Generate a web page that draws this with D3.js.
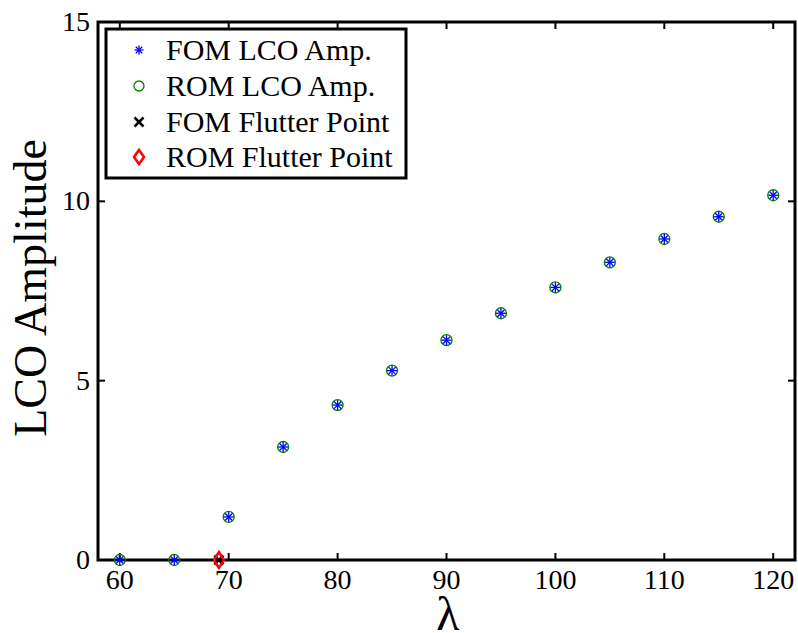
<!DOCTYPE html>
<html>
<head>
<meta charset="utf-8">
<script src="https://cdn.jsdelivr.net/npm/d3@7"></script>
<style>
  body { margin: 0; background: #fff; }
  text { font-family: "Liberation Serif", "Times New Roman", serif; }
</style>
</head>
<body>
<div class="chart"></div>
<script>
// lambda values and LCO amplitudes
var lambdas = [60, 65, 70, 75, 80, 85, 90, 95, 100, 105, 110, 115, 120];
var fomAmp = [0, 0, 1.2, 3.15, 4.32, 5.28, 6.13, 6.88, 7.6, 8.3, 8.95, 9.57, 10.17];
var romAmp = [0, 0, 1.2, 3.15, 4.32, 5.28, 6.13, 6.88, 7.6, 8.3, 8.95, 9.57, 10.17];
var fomFlutter = [69.1, 0];
var romFlutter = [69.1, 0];
var xTicks = [60, 70, 80, 90, 100, 110, 120];
var yTicks = [0, 5, 10, 15];
var legendLabels = ["FOM LCO Amp.", "ROM LCO Amp.", "FOM Flutter Point", "ROM Flutter Point"];

const width = 798, height = 633;
const pLeft = 98, pTop = 22, pRight = 795, pBottom = 560;

const svg = d3.select(".chart").append("svg")
              .attr("width", width)
              .attr("height", height)
              .style("display", "block");

const x = d3.scaleLinear().domain([58, 122]).range([pLeft, pRight]);
const y = d3.scaleLinear().domain([0, 15]).range([pBottom, pTop]);

// ticks, inward on all four sides
const g = svg.append("g");
xTicks.forEach(function(t){
    g.append("line").attr("x1", x(t)).attr("x2", x(t)).attr("y1", pBottom).attr("y2", pBottom - 7)
     .attr("stroke", "#000").attr("stroke-width", 2);
    g.append("line").attr("x1", x(t)).attr("x2", x(t)).attr("y1", pTop).attr("y2", pTop + 7)
     .attr("stroke", "#000").attr("stroke-width", 2);
    g.append("text").attr("x", x(t)).attr("y", pBottom + 29)
     .attr("text-anchor", "middle").attr("font-size", 28).text(t);
});
yTicks.forEach(function(t){
    g.append("line").attr("x1", pLeft).attr("x2", pLeft + 7).attr("y1", y(t)).attr("y2", y(t))
     .attr("stroke", "#000").attr("stroke-width", 2);
    g.append("line").attr("x1", pRight).attr("x2", pRight - 7).attr("y1", y(t)).attr("y2", y(t))
     .attr("stroke", "#000").attr("stroke-width", 2);
    g.append("text").attr("x", pLeft - 8).attr("y", y(t) + 9)
     .attr("text-anchor", "end").attr("font-size", 28).text(t);
});

svg.append("rect")
   .attr("x", pLeft).attr("y", pTop)
   .attr("width", pRight - pLeft).attr("height", pBottom - pTop)
   .attr("fill", "none").attr("stroke", "#000").attr("stroke-width", 3);

// axis labels (the lambda sits at the very bottom edge, as in the original)
svg.append("text").attr("x", 448).attr("y", 630)
   .attr("text-anchor", "middle").attr("font-size", 48).text("λ");
svg.append("text")
   .attr("transform", "translate(46,288) rotate(-90)")
   .attr("text-anchor", "middle").attr("font-size", 46).text("LCO Amplitude");

// marker helpers
function asterisk(sel, cx, cy, r) {
    for (var k = 0; k < 4; k++) {
        var a = k * Math.PI / 4;
        sel.append("line")
           .attr("x1", cx - r * Math.cos(a)).attr("y1", cy - r * Math.sin(a))
           .attr("x2", cx + r * Math.cos(a)).attr("y2", cy + r * Math.sin(a))
           .attr("stroke", "#0000ff").attr("stroke-width", 1.3);
    }
}
function circle(sel, cx, cy, r) {
    sel.append("circle").attr("cx", cx).attr("cy", cy).attr("r", r)
       .attr("fill", "none").attr("stroke", "#008000").attr("stroke-width", 1.3);
}
function cross(sel, cx, cy, r) {
    sel.append("path")
       .attr("d", "M" + (cx - r) + "," + (cy - r) + "L" + (cx + r) + "," + (cy + r) +
                  "M" + (cx - r) + "," + (cy + r) + "L" + (cx + r) + "," + (cy - r))
       .attr("stroke", "#000").attr("stroke-width", 2.5).attr("fill", "none");
}
function diamond(sel, cx, cy, w, h) {
    sel.append("path")
       .attr("d", "M" + cx + "," + (cy - h) + "L" + (cx + w) + "," + cy + "L" + cx + "," + (cy + h) +
                  "L" + (cx - w) + "," + cy + "Z")
       .attr("stroke", "#ff0000").attr("stroke-width", 2.5).attr("fill", "none");
}

const marks = svg.append("g");
lambdas.forEach(function(l, i){
    circle(marks, x(l), y(romAmp[i]), 5.5);
    asterisk(marks, x(l), y(fomAmp[i]), 5);
});
cross(marks, x(fomFlutter[0]), y(fomFlutter[1]), 4.5);
diamond(marks, x(romFlutter[0]), y(romFlutter[1]), 5, 8);

// legend
const lg = svg.append("g");
lg.append("rect").attr("x", 106).attr("y", 29).attr("width", 300).attr("height", 149)
  .attr("fill", "#fff").attr("stroke", "#000").attr("stroke-width", 3);
var rowY = [50, 86, 122, 157];
legendLabels.forEach(function(lab, i){
    lg.append("text").attr("x", 166).attr("y", rowY[i] + 10).attr("font-size", 30).text(lab);
});
asterisk(lg, 139, rowY[0], 4.5);
circle(lg, 139, rowY[1], 5);
cross(lg, 139, rowY[2], 4.5);
diamond(lg, 139, rowY[3], 5, 7);
</script>
</body>
</html>
